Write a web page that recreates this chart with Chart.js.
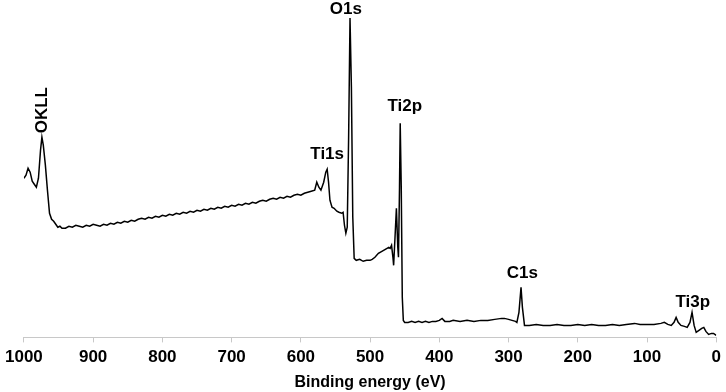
<!DOCTYPE html>
<html>
<head>
<meta charset="utf-8">
<script src="https://cdn.jsdelivr.net/npm/chart.js@4"></script>
<style>
  body { margin: 0; background: #fff; }
  #wrap { width: 726px; height: 392px; }
</style>
</head>
<body>
<div id="wrap"><canvas id="xps"></canvas></div>
<script>
// binding energy (eV) and intensity (a.u.)
const energy = [
  1000, 997, 994, 991, 988, 985, 982, 979, 976, 974, 972, 969, 966, 963, 960, 957, 954, 951, 948, 945,
  940, 935, 930, 925, 920, 915, 910, 905, 900, 895, 890, 885, 880, 875, 870, 865, 860, 855, 850, 845,
  840, 835, 830, 825, 820, 815, 810, 805, 800, 795, 790, 785, 780, 775, 770, 765, 760, 755, 750, 745,
  740, 735, 730, 725, 720, 715, 710, 705, 700, 695, 690, 685, 680, 675, 670, 665, 660, 655, 650, 645,
  640, 635, 630, 625, 620, 615, 610, 605, 600, 595, 590, 585,
  580, 577, 574, 571, 567, 564, 562, 560, 558, 555, 552, 548, 545, 541, 539, 537, 535, 533,
  531, 529, 527, 525, 523, 520, 515, 510, 505, 500, 497, 493, 488, 483, 478, 473, 471, 469, 467, 466,
  464, 462, 460, 459, 457.5, 456.5, 455, 453.5, 452, 450, 445, 440, 435, 430, 425, 420, 415, 410, 405,
  400, 396, 392, 385, 380, 370, 360, 350, 340, 330, 320, 310, 306, 300, 295, 290, 288, 285, 282, 280, 277,
  270, 260, 250, 240, 230, 220, 210, 200, 190, 180, 170, 160, 150, 140, 130, 118, 110, 100, 90, 80,
  75, 70, 65, 61, 58, 55, 51, 46, 42, 38, 35, 32, 29, 25, 21, 18, 15, 11, 7, 4, 0
];
const intensity = [
  159, 162, 169, 165, 156, 153, 150, 159, 187, 200, 192, 172, 147, 124, 118, 116, 113, 110, 111, 109,
  109, 111, 110, 112, 111, 110, 112, 111, 113, 112, 111, 113, 112, 114, 113, 115, 114, 116, 115, 117,
  116, 118, 119, 118, 120, 119, 121, 120, 122, 121, 123, 122, 124, 123, 125, 124, 126, 125, 127, 126,
  128, 127, 129, 128, 130, 129, 131, 130, 132, 131, 133, 132, 134, 133, 135, 134, 136, 137, 136, 138,
  139, 138, 140, 139, 141, 140, 142, 143, 142, 144, 145, 146,
  147, 155, 150, 147, 155, 165, 168, 155, 137, 130, 129, 126, 125, 124, 125, 112, 104, 110,
  200, 319, 250, 120, 79, 77, 78, 76, 77, 77, 78, 80, 84, 86, 88, 90, 89, 92, 80, 72,
  100, 129, 90, 80, 150, 214, 150, 40, 17, 15, 15, 16, 15, 16, 15, 16, 15, 16, 16,
  17, 19, 16, 16, 17, 16, 17, 16, 17, 17, 18, 19, 19, 18, 17, 16, 15, 25, 50, 30, 12,
  12, 13, 12, 12, 13, 12, 12, 13, 12, 13, 12, 12, 13, 12, 13, 14, 13, 13, 13, 14,
  15, 13, 12, 15, 20, 15, 12, 11, 10, 15, 25, 12, 5, 7, 9, 10, 6, 3, 4, 4, 2
];
const xTicks = [1000, 900, 800, 700, 600, 500, 400, 300, 200, 100, 0];

// peak assignments, centred on (eV, intensity)
const peakNames = ["OKLL", "O1s", "Ti1s", "Ti2p", "C1s", "Ti3p"];
const peakEnergy = [974, 535, 562, 450, 280, 34];
const peakIntensity = [227, 328, 183, 231, 64, 35];

const font = "'Liberation Sans', Arial, sans-serif";

const peakLabels = {
  id: "peakLabels",
  afterDatasetsDraw(chart) {
    const { ctx, scales } = chart;
    ctx.save();
    ctx.font = "bold 17px " + font;
    ctx.fillStyle = "#000";
    ctx.textAlign = "center";
    ctx.textBaseline = "middle";
    peakNames.forEach((name, i) => {
      const x = scales.x.getPixelForValue(peakEnergy[i]);
      const y = scales.y.getPixelForValue(peakIntensity[i]);
      if (name === "OKLL") {
        ctx.save();
        ctx.translate(x, y);
        ctx.rotate(-Math.PI / 2);
        ctx.fillText(name, 0, 0);
        ctx.restore();
      } else {
        ctx.fillText(name, x, y);
      }
    });
    ctx.restore();
  },
};

new Chart(document.getElementById("xps"), {
  type: "line",
  data: {
    datasets: [
      {
        data: energy.map((e, i) => ({ x: e, y: intensity[i] })),
        borderColor: "#000",
        borderWidth: 1.5,
        pointRadius: 0,
        tension: 0,
        fill: false,
      },
    ],
  },
  options: {
    responsive: true,
    maintainAspectRatio: false,
    animation: false,
    layout: { padding: { left: 20, right: 8, top: 0, bottom: 0 } },
    plugins: {
      legend: { display: false },
      tooltip: { enabled: false },
    },
    scales: {
      x: {
        type: "linear",
        reverse: true,
        min: 0,
        max: 1000,
        afterBuildTicks: (axis) => {
          axis.ticks = xTicks.map((v) => ({ value: v }));
        },
        ticks: {
          color: "#000",
          padding: 5,
          maxRotation: 0,
          autoSkip: false,
          callback: (v) => String(v),
          font: { family: font, size: 17, weight: "bold" },
        },
        grid: {
          drawOnChartArea: false,
          drawTicks: true,
          tickLength: 5,
          color: "#c8c8c8",
        },
        border: { display: true, color: "#c8c8c8", width: 1 },
        title: {
          display: true,
          text: "Binding energy (eV)",
          color: "#000",
          padding: { top: 0, bottom: 0 },
          font: { family: font, size: 16, weight: "bold" },
        },
      },
      y: {
        display: false,
        min: 0,
        max: 337,
      },
    },
  },
  plugins: [peakLabels],
});
</script>
</body>
</html>
